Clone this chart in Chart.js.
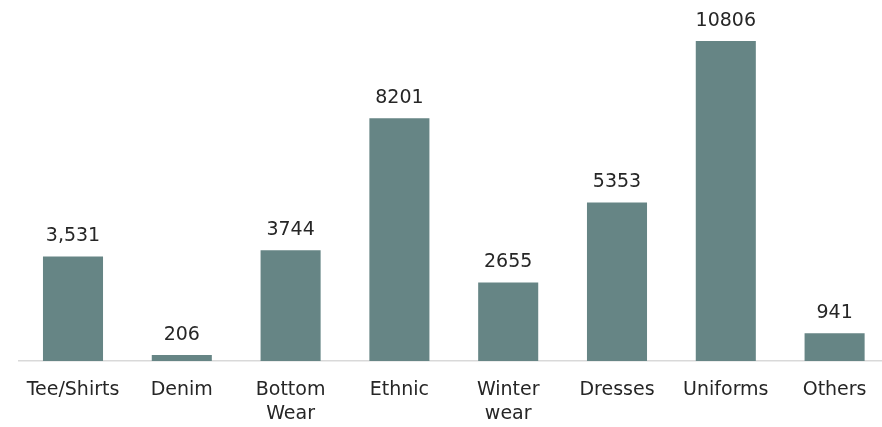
<!DOCTYPE html>
<html><head><meta charset="utf-8">
<script src="https://cdn.jsdelivr.net/npm/chart.js@4/dist/chart.umd.min.js"></script>
<style>html,body{margin:0;padding:0;overflow:hidden;background:#fff}#wrap{width:889px;height:427px}</style>
</head><body><div id="wrap"><canvas id="c" width="889" height="427"></canvas></div>
<script>
const categories = [["Tee/Shirts"], ["Denim"], ["Bottom", "Wear"], ["Ethnic"], ["Winter", "wear"], ["Dresses"], ["Uniforms"], ["Others"]];
const values = [3531, 206, 3744, 8201, 2655, 5353, 10806, 941];
const valueLabels = ["3,531", "206", "3744", "8201", "2655", "5353", "10806", "941"];
const FONT = "'Century Gothic', 'DejaVu Sans', sans-serif";

const labelPlugin = {
  id: 'vlabels',
  afterDatasetsDraw(chart) {
    const ctx = chart.ctx;
    const meta = chart.getDatasetMeta(0);
    ctx.save();
    ctx.font = "19px " + FONT;
    ctx.fillStyle = "#262626";
    ctx.textAlign = "center";
    ctx.textBaseline = "alphabetic";
    meta.data.forEach((bar, i) => {
      ctx.fillText(valueLabels[i], bar.x, bar.y - 15);
    });
    ctx.restore();
  }
};

new Chart(document.getElementById('c'), {
  type: 'bar',
  data: { labels: categories, datasets: [{ data: values, backgroundColor: '#668585', categoryPercentage: 1, barPercentage: 0.552 }] },
  options: {
    responsive: false, animation: false,
    layout: { padding: { left: 18.6, right: 0, top: 0, bottom: 0 } },
    plugins: { legend: { display: false }, tooltip: { enabled: false } },
    scales: {
      x: {
        grid: { display: false },
        border: { display: true, color: '#d9d9d9', width: 1.5 },
        ticks: { color: '#262626', font: { family: FONT, size: 19, lineHeight: 1.26 }, padding: 9, maxRotation: 0 },
        afterFit(s) { s.height = 66; }
      },
      y: { display: false, min: 0, max: 12192 }
    }
  },
  plugins: [labelPlugin]
});
</script></body></html>
